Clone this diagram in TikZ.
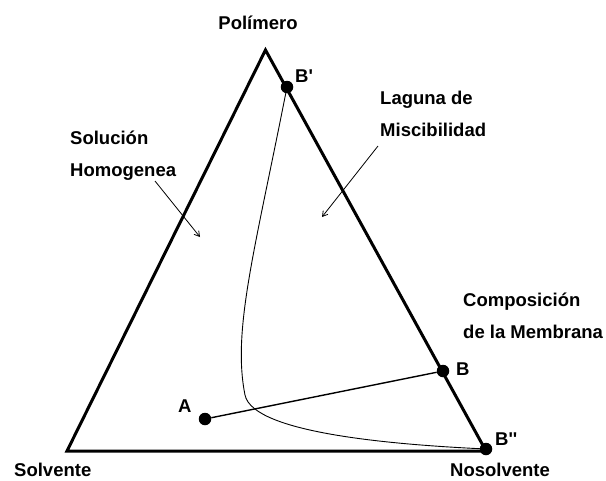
\documentclass[tikz,border=0pt]{standalone}
\usepackage{fontspec}
\setmainfont{Liberation Sans}
\usetikzlibrary{arrows.meta,positioning}
\tikzset{
  phasept/.style={circle,fill=black,inner sep=0pt,minimum size=12.5pt},
  lbl/.style={font=\bfseries\fontsize{18.5}{32}\selectfont,inner sep=0pt,align=left},
  sideline/.style={line width=3pt,line join=miter},
  tieline/.style={line width=1.4pt},
  binodal/.style={line width=0.9pt},
  callout/.style={-{Straight Barb[length=5pt,width=6pt]},line width=0.8pt}
}

\begin{document}
\begin{tikzpicture}[x=1pt,y=-1pt]
  \useasboundingbox (0,0) rectangle (606,480);
  % corners of the diagram
  \coordinate (polim) at (265.5,50);
  \coordinate (solv) at (67,451);
  \coordinate (nosolv) at (486,451);
  \draw[sideline] (solv) -- (polim) -- (nosolv) -- cycle;

  % compositions
  \node[phasept] (Bp) at (287,87) {};
  \node[phasept] (B) at (443,371) {};
  \node[phasept] (Bpp) at (486,449) {};
  \node[phasept] (A) at (205,419) {};
  \draw[tieline] (A) -- (B);
  \draw[binodal] (Bp.center) .. controls (255,250) and (232,330) .. (245,395)
        .. controls (253,434) and (400,445) .. (Bpp.center);

  % labels
  \node[lbl,anchor=base] (tPolim) at (258,29) {Polímero};
  \node[lbl,anchor=base west] (tSolv) at (14,476) {Solvente};
  \node[lbl,anchor=base west] (tNosolv) at (450,476) {Nosolvente};
  \node[lbl,anchor=base west] (tA) at (178,412) {A};
  \node[lbl,anchor=base west] (tB) at (456,375) {B};
  \node[lbl,anchor=base west] (tBp) at (295,82) {B\textquotesingle};
  \node[lbl,anchor=base west] (tBpp) at (495,445) {B\textquotesingle\textquotesingle};
  \node[lbl,anchor=north west] (tSol) at (70,131) {Solución\\Homogenea};
  \node[lbl,anchor=north west] (tLag) at (380,91) {Laguna de\\Miscibilidad};
  \node[lbl,anchor=north west] (tComp) at (463,293) {Composición\\de la Membrana};

  % pointers
  \coordinate (solTip) at (200,237);
  \coordinate (lagTip) at (322,217);
  \draw[callout] (155,181) -- (solTip);
  \draw[callout] (378,146) -- (lagTip);
\end{tikzpicture}
\end{document}
